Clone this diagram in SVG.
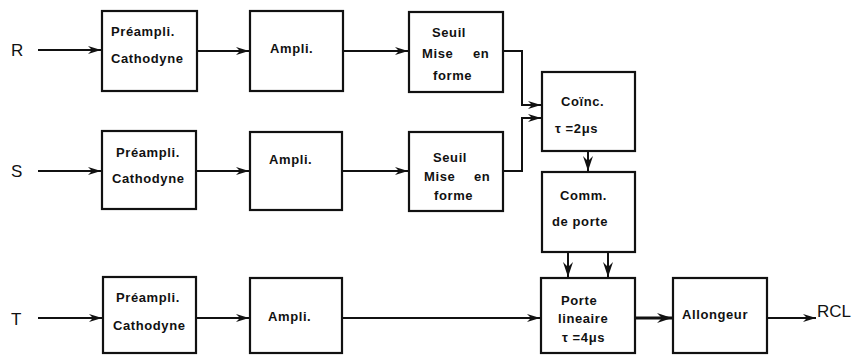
<svg xmlns="http://www.w3.org/2000/svg" width="852" height="356" viewBox="0 0 852 356">
<defs>
<marker id="ah" markerWidth="14" markerHeight="10" refX="13" refY="5" orient="auto" markerUnits="userSpaceOnUse">
<path d="M0,1 L13,5 L0,9 L4,5 Z" fill="#111"/>
</marker>
<marker id="ahb" markerWidth="16" markerHeight="12" refX="15" refY="6" orient="auto" markerUnits="userSpaceOnUse">
<path d="M0,1 L15,6 L0,11 L5,6 Z" fill="#111"/>
</marker>
<style>
.box{fill:#fff;stroke:#111;stroke-width:2.2}
.t{font-family:"Liberation Sans",Arial,sans-serif;font-weight:bold;font-size:13px;fill:#111;letter-spacing:0.6px}
.lbl{font-family:"Liberation Sans",Arial,sans-serif;font-size:17px;fill:#111}
.c{fill:none;stroke:#111;stroke-width:2}
</style>
</defs>
<rect width="852" height="356" fill="#fff"/>
<g id="inputs">
<text class="lbl" x="11" y="56">R</text>
<text class="lbl" x="11" y="177">S</text>
<text class="lbl" x="11" y="325">T</text>
<text class="lbl" x="817" y="317">RCL</text>
</g>
<g id="preampR"><rect class="box" x="102" y="11" width="95" height="80"/><text class="t" x="111" y="36">Préampli.</text><text class="t" x="111" y="63">Cathodyne</text></g>
<g id="amplR"><rect class="box" x="250" y="11" width="93" height="80"/><text class="t" x="270" y="53">Ampli.</text></g>
<g id="seuilR"><rect class="box" x="409" y="12" width="94" height="80"/><text class="t" x="432" y="37">Seuil</text><text class="t" x="422" y="58">Mise</text><text class="t" x="473" y="58">en</text><text class="t" x="433" y="80">forme</text></g>
<g id="preampS"><rect class="box" x="102" y="131" width="94" height="78"/><text class="t" x="116" y="157">Préampli.</text><text class="t" x="112" y="183">Cathodyne</text></g>
<g id="amplS"><rect class="box" x="250" y="132" width="92" height="78"/><text class="t" x="269" y="164">Ampli.</text></g>
<g id="seuilS"><rect class="box" x="409" y="132" width="94" height="79"/><text class="t" x="433" y="162">Seuil</text><text class="t" x="424" y="181">Mise</text><text class="t" x="474" y="181">en</text><text class="t" x="434" y="200">forme</text></g>
<g id="coinc"><rect class="box" x="542" y="72" width="93" height="79"/><text class="t" x="561" y="106">Coïnc.</text><text class="t" x="555" y="133">τ =2μs</text></g>
<g id="comm"><rect class="box" x="542" y="172" width="93" height="80"/><text class="t" x="560" y="200">Comm.</text><text class="t" x="552" y="226">de porte</text></g>
<g id="preampT"><rect class="box" x="103" y="277" width="93" height="76"/><text class="t" x="116" y="302">Préampli.</text><text class="t" x="113" y="330">Cathodyne</text></g>
<g id="amplT"><rect class="box" x="250" y="278" width="92" height="75"/><text class="t" x="268" y="321">Ampli.</text></g>
<g id="porte"><rect class="box" x="541" y="278" width="94" height="75"/><text class="t" x="561" y="305">Porte</text><text class="t" x="558" y="323">lineaire</text><text class="t" x="562" y="342">τ =4μs</text></g>
<g id="allongeur"><rect class="box" x="673" y="278" width="94" height="75"/><text class="t" x="682" y="319">Allongeur</text></g>
<g id="connectors">
<line class="c" x1="38" y1="50" x2="101" y2="50" marker-end="url(#ah)"/>
<line class="c" x1="197" y1="51" x2="249" y2="51" marker-end="url(#ah)"/>
<line class="c" x1="343" y1="51" x2="408" y2="51" marker-end="url(#ah)"/>
<polyline class="c" points="503,51 522,51 522,105 541,105" marker-end="url(#ah)"/>
<line class="c" x1="38" y1="171" x2="101" y2="171" marker-end="url(#ah)"/>
<line class="c" x1="196" y1="171" x2="249" y2="171" marker-end="url(#ah)"/>
<line class="c" x1="342" y1="171" x2="408" y2="171" marker-end="url(#ah)"/>
<polyline class="c" points="503,171 522,171 522,118 541,118" marker-end="url(#ah)"/>
<line class="c" x1="588" y1="151" x2="588" y2="171" marker-end="url(#ahb)"/>
<line class="c" x1="568" y1="252" x2="568" y2="277" marker-end="url(#ahb)"/>
<line class="c" x1="608" y1="252" x2="608" y2="277" marker-end="url(#ahb)"/>
<line class="c" x1="38" y1="318" x2="102" y2="318" marker-end="url(#ah)"/>
<line class="c" x1="196" y1="318" x2="249" y2="318" marker-end="url(#ah)"/>
<line class="c" x1="342" y1="318" x2="540" y2="318" marker-end="url(#ah)"/>
<line class="c" x1="635" y1="318" x2="672" y2="318" marker-end="url(#ahb)" style="stroke-width:3"/>
<line class="c" x1="767" y1="318" x2="816" y2="318" marker-end="url(#ah)"/>
</g>
</svg>
